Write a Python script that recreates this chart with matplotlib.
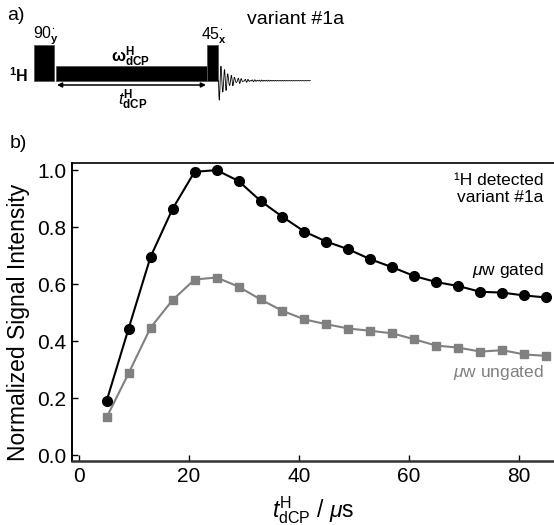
import matplotlib
matplotlib.use("Agg")
import matplotlib.pyplot as plt
from matplotlib.patches import Rectangle
import numpy as np

plt.rcParams['font.family'] = ['Liberation Sans', 'DejaVu Sans']
plt.rcParams['mathtext.fontset'] = 'custom'
plt.rcParams['mathtext.rm'] = 'Liberation Sans'
plt.rcParams['mathtext.it'] = 'Liberation Sans:italic'
plt.rcParams['mathtext.bf'] = 'Liberation Sans:bold'

# data
t_dcp = [5, 9, 13, 17, 21, 25, 29, 33, 37, 41, 45, 49, 53, 57, 61, 65, 69, 73, 77, 81, 85]
gated = [0.19, 0.444, 0.696, 0.864, 0.994, 1.0, 0.962, 0.892, 0.836, 0.784, 0.749,
         0.722, 0.687, 0.659, 0.628, 0.607, 0.593, 0.573, 0.570, 0.560, 0.553]
ungated = [0.132, 0.287, 0.447, 0.544, 0.616, 0.623, 0.591, 0.546, 0.506, 0.476, 0.459,
           0.444, 0.436, 0.427, 0.406, 0.384, 0.377, 0.363, 0.368, 0.353, 0.348]
yticks = [0.0, 0.2, 0.4, 0.6, 0.8, 1.0]
xticks = [0, 20, 40, 60, 80]

# pulse sequence schematic (pixel units of the top strip)
pulses = [(34.3, 45, 20, 35.7), (56, 66, 150.7, 14.7), (207.3, 45, 11, 35.7)]
grey = '#808080'

fig = plt.figure(figsize=(5.54, 5.25), dpi=100)

# ---- panel a
ax0 = fig.add_axes([0, 1 - 130 / 525, 1, 130 / 525])
ax0.set_xlim(0, 554)
ax0.set_ylim(130, 0)
ax0.axis('off')
for x, y, w, h in pulses:
    ax0.add_patch(Rectangle((x, y), w, h, facecolor='black', edgecolor='#555555', lw=0.6))
tf = np.arange(0, 92, 0.2)
fid = 80.7 + 20 * np.exp(-tf / 9) * np.sin(2 * np.pi * tf / 3.4) + 1.5 * np.exp(-tf / 40) * np.sin(2 * np.pi * tf / 2.3)
ax0.plot(218.5 + tf, fid, color='black', lw=0.6)
ax0.annotate('', xy=(57, 85), xytext=(206, 85),
             arrowprops=dict(arrowstyle='<|-|>', color='black', lw=1.1, mutation_scale=7, shrinkA=0, shrinkB=0))
ax0.text(7, 15, 'a)', fontsize=14, va='center')
ax0.text(9, 76, r'$^{\mathbf{1}}\mathbf{H}$', fontsize=11.5, va='center')
ax0.text(33, 36, r'90$_{\mathbf{y}}^{\!\bullet}$', fontsize=11.5, va='center')
ax0.text(201, 36, r'45$_{\mathbf{x}}^{\!\bullet}$', fontsize=11.5, va='center')
ax0.text(131, 57, r'$\mathbf{\omega^{H}_{dCP}}$', fontsize=12, ha='center', va='center')
ax0.text(133, 100, r'$t^{\mathbf{H}}_{\mathbf{dCP}}$', fontsize=12, ha='center', va='center')
ax0.text(247, 20, 'variant #1a', fontsize=14, va='center')

# ---- panel b
ax = fig.add_axes([72 / 554, 1 - 461 / 525, 1 - 72 / 554, (461 - 163) / 525])
ax.plot(t_dcp, ungated, color=grey, marker='s', ms=6, lw=1.5)
ax.plot(t_dcp, gated, color='black', marker='o', ms=7, lw=1.5)
ax.set_xlim(-1.3, 86.4)
ax.set_ylim(-0.021, 1.025)
ax.set_xticks(xticks)
ax.set_yticks(yticks)
ax.set_yticklabels([f'{v:.1f}' for v in yticks])
ax.tick_params(direction='in', length=4, width=1, labelsize=15, pad=4)
ax.spines['right'].set_visible(False)
ax.spines['top'].set_linewidth(1.2)
ax.spines['left'].set_linewidth(1.4)
ax.spines['bottom'].set_linewidth(1.8)
ax.spines['bottom'].set_color('#333333')
ax.set_ylabel('Normalized Signal Intensity', fontsize=16.5)
ax.yaxis.set_label_coords(-0.087, 0.465)
ax.set_xlabel(r'$t^{\mathrm{H}}_{\mathrm{dCP}}$ / $\mu$s', fontsize=16.5, labelpad=6)
ax.text(84.5, 0.935, '¹H detected\nvariant #1a', fontsize=12.5, ha='right', va='center',
        multialignment='right', linespacing=1.15)
ax.text(84.5, 0.649, r'$\mu$w gated', fontsize=12.5, ha='right', va='center')
ax.text(84.5, 0.291, r'$\mu$w ungated', fontsize=12.5, ha='right', va='center', color=grey)
fig.text(10 / 554, 1 - 143 / 525, 'b)', fontsize=14, va='center')

fig.savefig('out.png', dpi=100)
